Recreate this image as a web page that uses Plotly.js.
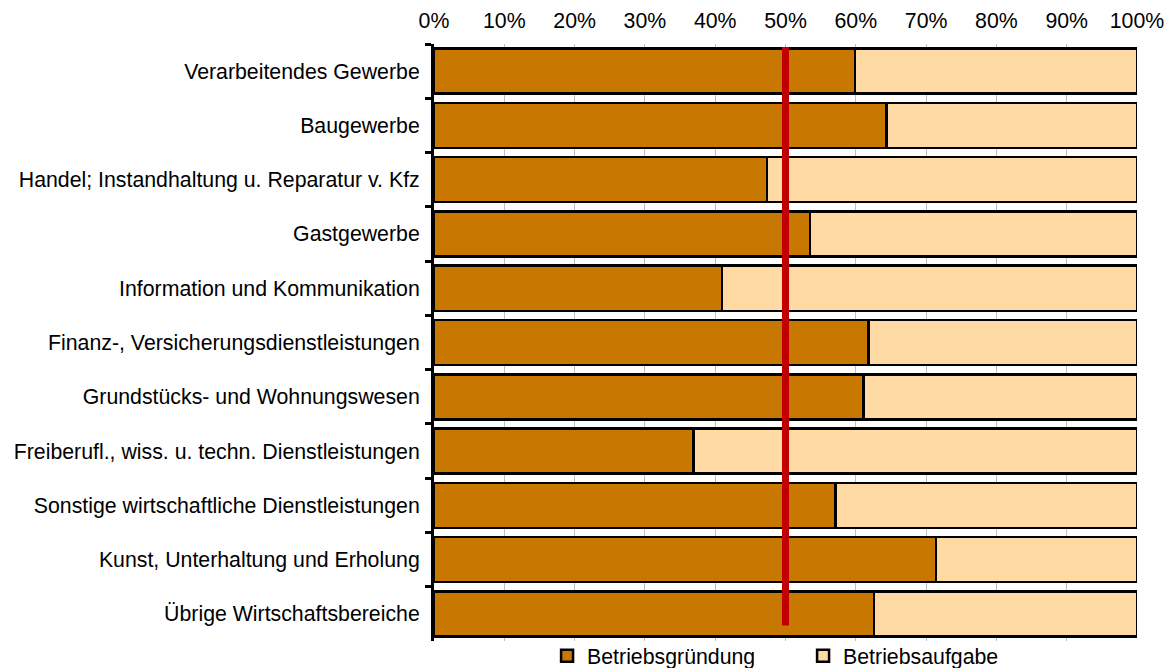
<!DOCTYPE html>
<html>
<head>
<meta charset="utf-8">
<script src="https://cdn.plot.ly/plotly-3.0.1.min.js"></script>
<style>
html,body{margin:0;padding:0;background:#fff;}
#chart{width:1168px;height:668px;}
</style>
</head>
<body>
<div id="chart"></div>
<script>
// Data
var categories = [
  "Verarbeitendes Gewerbe",
  "Baugewerbe",
  "Handel; Instandhaltung u. Reparatur v. Kfz",
  "Gastgewerbe",
  "Information und Kommunikation",
  "Finanz-, Versicherungsdienstleistungen",
  "Grundstücks- und Wohnungswesen",
  "Freiberufl., wiss. u. techn. Dienstleistungen",
  "Sonstige wirtschaftliche Dienstleistungen",
  "Kunst, Unterhaltung und Erholung",
  "Übrige Wirtschaftsbereiche"
];
var gruendung = [59.9, 64.4, 47.4, 53.5, 41.0, 61.8, 61.1, 36.9, 57.1, 71.4, 62.6];
var aufgabe = gruendung.map(function(v){ return Math.round((100 - v) * 10) / 10; });
var seriesNames = ["Betriebsgründung", "Betriebsaufgabe"];
var referenceLine = 50;
var tickValues = [0,10,20,30,40,50,60,70,80,90,100];
var tickLabels = ["0%","10%","20%","30%","40%","50%","60%","70%","80%","90%","100%"];

var font = {family: '"Liberation Sans", Arial, sans-serif', size: 21.3, color: '#000'};

var traces = [
  {
    type: 'bar', orientation: 'h', name: seriesNames[0],
    y: categories, x: gruendung,
    marker: {color: '#C87800', line: {color: '#000', width: 2.5}},
    hoverinfo: 'skip'
  },
  {
    type: 'bar', orientation: 'h', name: seriesNames[1],
    y: categories, x: aufgabe,
    marker: {color: '#FFDAA5', line: {color: '#000', width: 2.5}},
    hoverinfo: 'skip'
  }
];

var layout = {
  width: 1168, height: 668,
  margin: {l: 434, r: 31, t: 44, b: 27, pad: 0, autoexpand: false},
  paper_bgcolor: '#fff', plot_bgcolor: '#fff',
  font: font,
  barmode: 'stack',
  bargap: 0.17,
  showlegend: true,
  legend: {
    orientation: 'h', x: 0.525, xanchor: 'center',
    yref: 'container', y: 0.018, yanchor: 'middle',
    font: font, bgcolor: 'rgba(0,0,0,0)', traceorder: 'normal',
    entrywidth: 211, entrywidthmode: 'pixels'
  },
  xaxis: {
    side: 'top', range: [0, 100], fixedrange: true,
    tickmode: 'array', tickvals: tickValues, ticktext: tickLabels,
    showgrid: true, gridcolor: '#BFBFBF', gridwidth: 1,
    zeroline: false, showline: false, ticks: '',
    ticklabelstandoff: 11,
    tickfont: font
  },
  yaxis: {
    type: 'category', autorange: 'reversed', fixedrange: true,
    tickson: 'boundaries', ticks: 'outside', ticklen: 6, tickwidth: 3, tickcolor: '#000',
    showline: true, linewidth: 3, linecolor: '#000',
    showgrid: false, zeroline: false,
    ticklabelstandoff: 7,
    tickfont: font
  },
  shapes: [{
    type: 'line', xref: 'x', yref: 'paper',
    x0: referenceLine, x1: referenceLine, y0: 0.026, y1: 0.995,
    line: {color: '#C00000', width: 7}
  }]
};

Plotly.newPlot('chart', traces, layout, {displayModeBar: false, staticPlot: true});
</script>
</body>
</html>
